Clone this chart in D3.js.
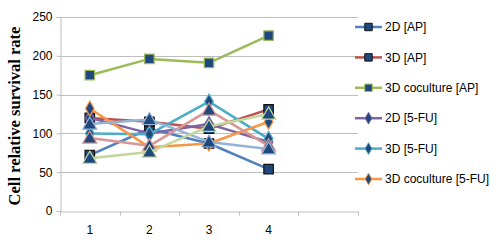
<!DOCTYPE html>
<html>
<head>
<meta charset="utf-8">
<script src="https://cdn.jsdelivr.net/npm/d3@7"></script>
<style>
  body { margin: 0; background: #fff; }
  svg { display: block; }
</style>
</head>
<body>
<div id="chart"></div>
<script>
// categories on the x axis (5th slot is left empty, like the original)
const categories = ["1", "2", "3", "4", ""];
const yTicks = [0, 50, 100, 150, 200, 250];

// series values
const ap2d = [72, 106, 87, 54];
const ap3d = [120, 115, 106, 131];
const apCo = [175, 196, 191, 226];
const fu2d = [120, 100, 112, 89];
const fu3d = [100, 99, 141, 93];
const fuCo = [132, 82, 87, 115];
const extraPink = [94, 84, 130, 84];
const extraBlue = [112, 118, 89, 80];
const extraGreen = [68, 76, 109, 125];

const seriesNames = ["2D [AP]", "3D [AP]", "3D coculture [AP]", "2D [5-FU]", "3D [5-FU]", "3D coculture [5-FU]", "", "", ""];
const seriesColors = ["#4F81BD", "#C0504D", "#9BBB59", "#8064A2", "#4BACC6", "#F79646", "#D99694", "#95B3D7", "#C3D69B"];
const seriesMarkers = ["square", "square", "square", "diamond", "diamond", "diamond", "triangle", "triangle", "triangle"];
const seriesValues = [ap2d, ap3d, apCo, fu2d, fu3d, fuCo, extraPink, extraBlue, extraGreen];

const markerFill = "#1F497D";

const width = 500, height = 242;
const margin = { top: 17, right: 142, bottom: 31, left: 60 };

const svg = d3.select("#chart").append("svg")
    .attr("width", width)
    .attr("height", height);

const x = d3.scaleBand()
    .domain(categories.map((c, i) => i))
    .range([margin.left, width - margin.right]);

const y = d3.scaleLinear()
    .domain([0, 250])
    .range([height - margin.bottom, margin.top]);

// gridlines
svg.append("g")
  .selectAll("line")
  .data(yTicks.filter(d => d > 0))
  .join("line")
    .attr("x1", margin.left)
    .attr("x2", width - margin.right)
    .attr("y1", d => Math.round(y(d)) + 0.5)
    .attr("y2", d => Math.round(y(d)) + 0.5)
    .attr("stroke", "#BEBEBE")
    .attr("stroke-width", 1);

// y axis
const yAxis = svg.append("g")
    .attr("transform", `translate(${margin.left + 0.5},0)`)
    .call(d3.axisLeft(y).tickValues(yTicks).tickSize(4).tickPadding(4));
yAxis.select(".domain").attr("stroke", "#BEBEBE");
yAxis.selectAll(".tick line").attr("stroke", "#BEBEBE");
yAxis.selectAll(".tick text")
    .attr("font-family", "Liberation Sans, Arial, sans-serif")
    .attr("font-size", 12)
    .attr("fill", "#000");

// x axis
const xAxis = svg.append("g")
    .attr("transform", `translate(0,${Math.round(y(0)) + 0.5})`)
    .call(d3.axisBottom(x).tickFormat(i => categories[i]).tickSize(0).tickPadding(14));
xAxis.select(".domain").attr("stroke", "#BEBEBE");
xAxis.selectAll(".tick text")
    .attr("font-family", "Liberation Sans, Arial, sans-serif")
    .attr("font-size", 12)
    .attr("fill", "#000");
// boundary tick marks between categories
xAxis.append("g")
  .selectAll("line")
  .data(d3.range(categories.length + 1))
  .join("line")
    .attr("x1", i => Math.round(margin.left + i * x.step()) + 0.5)
    .attr("x2", i => Math.round(margin.left + i * x.step()) + 0.5)
    .attr("y1", 0)
    .attr("y2", 4)
    .attr("stroke", "#BEBEBE");

// y axis title
svg.append("text")
    .attr("transform", `translate(20,${(margin.top + height - margin.bottom) / 2 + 2}) rotate(-90)`)
    .attr("text-anchor", "middle")
    .attr("font-family", "Liberation Serif, Times New Roman, serif")
    .attr("font-weight", "bold")
    .attr("font-size", 16.5)
    .attr("fill", "#000")
    .text("Cell relative survival rate");

function markerPath(type, size) {
  const sym = type === "square" ? d3.symbolSquare : type === "diamond" ? d3.symbolDiamond : d3.symbolTriangle;
  return d3.symbol().type(sym).size(size)();
}
function markerStroke(i) {
  return (i === 0 || i === 1) ? "#111" : seriesColors[i];
}
const markerSize = { square: 90, diamond: 65, triangle: 85 };

const line = d3.line()
    .x((d, i) => x(i) + x.bandwidth() / 2)
    .y(d => y(d));

seriesValues.forEach((vals, s) => {
  const g = svg.append("g");
  g.append("path")
      .datum(vals)
      .attr("d", line)
      .attr("fill", "none")
      .attr("stroke", seriesColors[s])
      .attr("stroke-width", 2.5)
      .attr("stroke-linejoin", "round");
  g.selectAll("path.mk")
    .data(vals)
    .join("path")
      .attr("class", "mk")
      .attr("transform", (d, i) => `translate(${x(i) + x.bandwidth() / 2},${y(d) + (seriesMarkers[s] === "triangle" ? 1 : 0)})`)
      .attr("d", markerPath(seriesMarkers[s], markerSize[seriesMarkers[s]]))
      .attr("fill", markerFill)
      .attr("stroke", markerStroke(s))
      .attr("stroke-width", 1.2);
});

// legend
const legend = svg.append("g");
const legendItems = seriesNames.map((n, i) => ({ n, i })).filter(d => d.n !== "");
legendItems.forEach((d, k) => {
  const ly = 27 + k * 30.4;
  legend.append("line")
      .attr("x1", 355).attr("x2", 382)
      .attr("y1", ly).attr("y2", ly)
      .attr("stroke", seriesColors[d.i])
      .attr("stroke-width", 2.5);
  legend.append("path")
      .attr("transform", `translate(368.5,${ly})`)
      .attr("d", markerPath(seriesMarkers[d.i], seriesMarkers[d.i] === "square" ? 55 : 40))
      .attr("fill", markerFill)
      .attr("stroke", markerStroke(d.i))
      .attr("stroke-width", 1);
  legend.append("text")
      .attr("x", 385)
      .attr("y", ly)
      .attr("dy", "0.35em")
      .attr("font-family", "Liberation Sans, Arial, sans-serif")
      .attr("font-size", 12)
      .attr("fill", "#000")
      .text(d.n);
});
</script>
</body>
</html>
